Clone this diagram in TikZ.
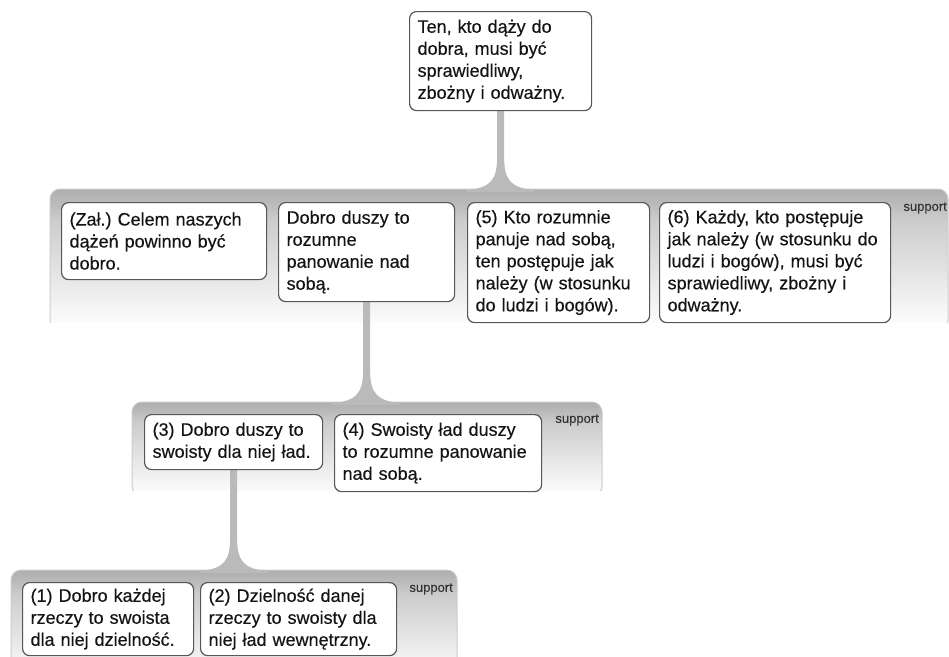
\documentclass[tikz,border=0pt]{standalone}
\usepackage{fontspec}
\setmainfont{Liberation Sans}
\usetikzlibrary{calc,backgrounds}
\frenchspacing
\pgfdeclareverticalshading{bandA}{100bp}{color(0bp)=(white); color(25bp)=(white); color(64bp)=(black!20); color(70bp)=(black!27); color(75bp)=(black!32); color(100bp)=(black!32)}
\newcommand{\mystem}[2]{%
  \fill[stemc] let \p1=(#1.south), \p2=(#1.south |- #2) in
    (\x1-3.5pt,\y1) -- (\x1-3.5pt,\y2+32pt)
    .. controls (\x1-3.5pt,\y2+9pt) and (\x1-10pt,\y2+1pt) .. (\x1-34pt,\y2-1pt)
    -- (\x1-34pt,\y2-3pt) -- (\x1+34pt,\y2-3pt) -- (\x1+34pt,\y2-1pt)
    .. controls (\x1+10pt,\y2+1pt) and (\x1+3.5pt,\y2+9pt) .. (\x1+3.5pt,\y2+32pt)
    -- (\x1+3.5pt,\y1) -- cycle;}
\begin{document}
\begin{tikzpicture}[x=1pt,y=-1pt,
  box/.style={draw=black!66, line width=1.2pt, rounded corners=7pt, fill=white,
    anchor=north west, align=left, inner xsep=8pt, inner ysep=3pt,
    font=\fontsize{18}{22}\selectfont\addfontfeatures{FakeBold=0.35}, text=black!92},
  bandbox/.style={shading=bandA, draw=black!20, line width=1pt, rounded corners=10pt},
  stemc/.style={fill=black!27},
  suplabel/.style={anchor=east, inner sep=0pt, font=\fontsize{13}{15}\selectfont\addfontfeatures{FakeBold=0.3}, text=black!80}]
\useasboundingbox (0,0) rectangle (949,656);
\clip (0,0) rectangle (949,656);

% band anchors
\coordinate (b1nw) at (50,189);
\coordinate (b2nw) at (132,402);
\coordinate (b3nw) at (11,570);

% nodes
\node[box, text width=166pt, minimum height=99pt] (top) at (409,11)
  {Ten, kto dąży do\\dobra, musi być\\sprawiedliwy,\\zbożny i odważny.};

\node[box, text width=189pt, minimum height=77pt] (zal) at (61,202)
  {(Zał.) Celem naszych\\dążeń powinno być\\dobro.};
\node[box, text width=160pt, minimum height=99pt] (dd) at (278,202)
  {Dobro duszy to\\rozumne\\panowanie nad\\sobą.};
\node[box, text width=166pt, minimum height=120pt] (p5) at (467,202)
  {(5) Kto rozumnie\\panuje nad sobą,\\ten postępuje jak\\należy (w stosunku\\do ludzi i bogów).};
\node[box, text width=215pt, minimum height=120pt] (p6) at (659,202)
  {(6) Każdy, kto postępuje\\jak należy (w stosunku do\\ludzi i bogów), musi być\\sprawiedliwy, zbożny i\\odważny.};

\node[box, text width=162pt, minimum height=55pt] (p3) at (144,414)
  {(3) Dobro duszy to\\swoisty dla niej ład.};
\node[box, text width=191pt, minimum height=77pt] (p4) at (334,414)
  {(4) Swoisty ład duszy\\to rozumne panowanie\\nad sobą.};

\node[box, text width=155pt, minimum height=73pt] (p1) at (22,582)
  {(1) Dobro każdej\\rzeczy to swoista\\dla niej dzielność.};
\node[box, text width=180pt, minimum height=73pt] (p2) at (200,582)
  {(2) Dzielność danej\\rzeczy to swoisty dla\\niej ład wewnętrzny.};

\node[suplabel] (s1) at (947,208) {support};
\node[suplabel] (s2) at (599,420) {support};
\node[suplabel] (s3) at (453,589) {support};

\begin{pgfonlayer}{background}
  \begin{scope}
    \clip (40,180) rectangle (949,322);
    \path[bandbox] (b1nw) rectangle (948,330);
  \end{scope}
  \begin{scope}
    \clip (120,395) rectangle (610,490);
    \path[bandbox] (b2nw) rectangle (602,496);
  \end{scope}
  \begin{scope}
    \clip (0,560) rectangle (470,656);
    \path[bandbox] (b3nw) rectangle (457,680);
  \end{scope}
  \mystem{top}{b1nw}
  \mystem{dd}{b2nw}
  \mystem{p3}{b3nw}
\end{pgfonlayer}
\end{tikzpicture}
\end{document}
